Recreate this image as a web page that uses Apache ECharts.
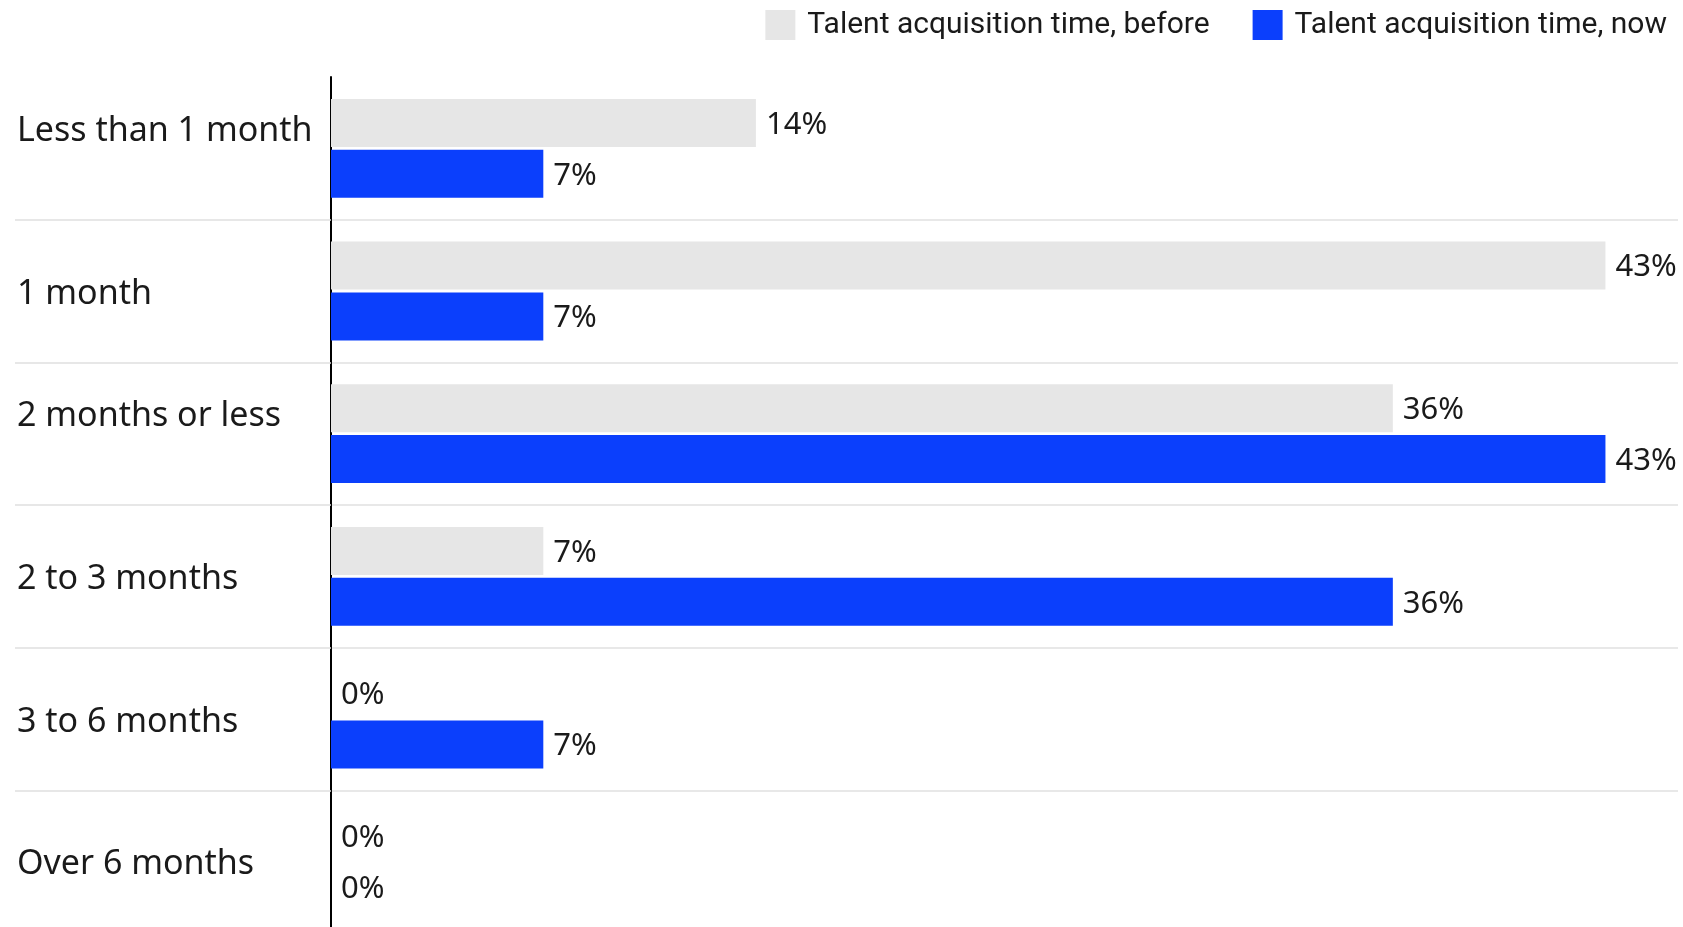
<!DOCTYPE html>
<html>
<head>
<meta charset="utf-8">
<style>
  html, body { margin: 0; padding: 0; background: #fff; }
  #chart { width: 1683px; height: 927px; }
</style>
<script src="https://cdn.jsdelivr.net/npm/echarts@6/dist/echarts.min.js"></script>
</head>
<body>
<div id="chart"></div>
<script>
// Hiring time buckets, top to bottom
const categories = [
  'Less than 1 month',
  '1 month',
  '2 months or less',
  '2 to 3 months',
  '3 to 6 months',
  'Over 6 months'
];

// Share of respondents (%), 14 respondents in total
const beforeValues = [14.29, 42.86, 35.71, 7.14, 0, 0];
const nowValues = [7.14, 7.14, 42.86, 35.71, 7.14, 0];

const seriesNames = ['Talent acquisition time, before', 'Talent acquisition time, now'];

const MAIN_FONT = '"Noto Sans", sans-serif';
const LEGEND_FONT = 'Roboto, sans-serif';
const SEP_COLOR = '#e0e0e0';
const TEXT_COLOR = '#1a1a1a';
const CAT_FONT_SIZE = 34;

// Two of the bucket names sit a little higher than their band
const liftedLabels = new Set(['Less than 1 month', '2 months or less']);

const chart = echarts.init(document.getElementById('chart'), null, { renderer: 'canvas' });

const valueLabel = {
  show: true,
  position: 'right',
  distance: 10,
  offset: [0, 2],
  color: TEXT_COLOR,
  fontFamily: MAIN_FONT,
  fontSize: 31,
  formatter: p => Math.round(p.value) + '%'
};

const catTextStyle = {
  color: TEXT_COLOR,
  fontFamily: MAIN_FONT,
  fontSize: CAT_FONT_SIZE
};

chart.setOption({
  animation: false,
  backgroundColor: '#ffffff',
  legend: {
    data: seriesNames,
    right: 11,
    top: 5,
    itemWidth: 30,
    itemHeight: 30,
    itemGap: 43,
    icon: 'rect',
    textStyle: {
      fontFamily: LEGEND_FONT,
      fontSize: 30,
      color: TEXT_COLOR,
      padding: [0, 0, 0, 7]
    }
  },
  grid: {
    left: 331,
    right: 5,
    top: 77,
    bottom: -6,
    containLabel: false,
    outerBoundsMode: 'none'
  },
  xAxis: {
    type: 'value',
    min: 0,
    max: 45.3,
    show: false
  },
  yAxis: {
    type: 'category',
    inverse: true,
    data: categories,
    axisLine: { show: true, lineStyle: { color: '#000', width: 2 } },
    axisTick: {
      show: true,
      length: 316,
      interval: (idx) => idx !== 0,
      lineStyle: { color: SEP_COLOR, width: 1.5 }
    },
    splitLine: {
      show: true,
      showMinLine: false,
      lineStyle: { color: SEP_COLOR, width: 1.5 }
    },
    axisLabel: {
      align: 'left',
      margin: 314,
      ...catTextStyle,
      formatter: v => (liftedLabels.has(v) ? '{up|' : '{mid|') + v + '}',
      rich: {
        up: { ...catTextStyle, padding: [0, 0, 34, 0] },
        mid: { ...catTextStyle, padding: [6, 0, 0, 0] }
      }
    }
  },
  series: [
    {
      name: seriesNames[0],
      type: 'bar',
      data: beforeValues,
      barWidth: 48,
      barGap: '6%',
      itemStyle: { color: '#e6e6e6' },
      label: valueLabel
    },
    {
      name: seriesNames[1],
      type: 'bar',
      data: nowValues,
      barWidth: 48,
      barGap: '6%',
      itemStyle: { color: '#0b3ffc' },
      label: valueLabel
    }
  ]
});
</script>
</body>
</html>
